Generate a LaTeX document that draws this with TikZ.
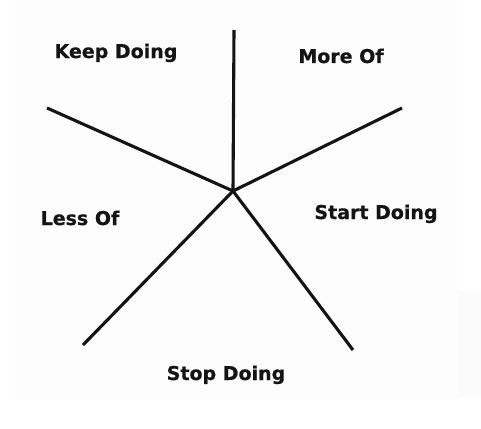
\documentclass[tikz,border=0pt]{standalone}
\usepackage{fontspec}
\setmainfont{DejaVu Sans}
\newfontfamily\heavyfont{DejaVu Sans}[UprightFont=*-Bold, FakeBold=0.6]
\begin{document}
\begin{tikzpicture}[x=1pt,y=-1pt,
  spoke/.style={line width=3.1pt, draw=black!92},
  lbl/.style={font=\heavyfont\fontsize{19}{22}\selectfont, anchor=base, inner sep=0pt, text=black!92}]
\useasboundingbox (0,0) rectangle (481,428);
\fill[white] (0,0) rectangle (481,428);
\fill[fill={rgb,255:red,251;green,252;blue,251}] (15,0) rectangle (457,400);
\fill[fill={rgb,255:red,250;green,251;blue,250}] (458,290) rectangle (481,398);
\coordinate (c) at (233,191);
\coordinate (t) at (234,30);
\coordinate (ur) at (402,108);
\coordinate (ul) at (47,108);
\coordinate (ll) at (83,345);
\coordinate (lr) at (353,350);
\draw[spoke] (c) -- (t);
\draw[spoke] (c) -- (ur);
\draw[spoke] (c) -- (ul);
\draw[spoke] (c) -- (ll);
\draw[spoke] (c) -- (lr);
\node[lbl] (keep) at (116,58) {Keep Doing};
\node[lbl] (more) at (341,63) {More Of};
\node[lbl] (start) at (376,219) {Start Doing};
\node[lbl] (less) at (80,225) {Less Of};
\node[lbl] (stop) at (226,380) {Stop Doing};
\end{tikzpicture}
\end{document}
